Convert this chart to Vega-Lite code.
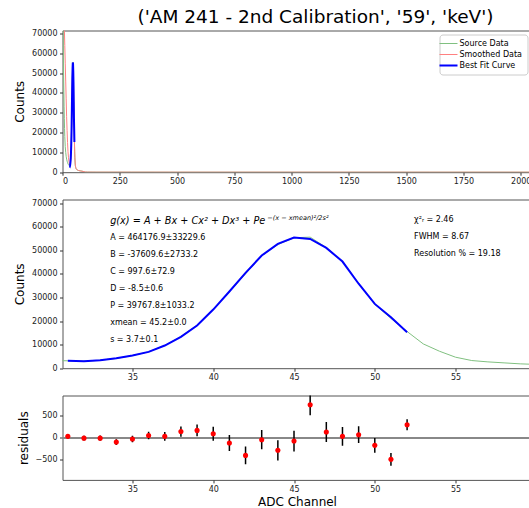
{
  "$schema": "https://vega.github.io/schema/vega-lite/v6.json",
  "padding": {"left": 12.5, "top": 7.5, "right": 0, "bottom": 0},
  "title": {"text": "('AM 241 - 2nd Calibration', '59', 'keV')", "font": "DejaVu Sans", "fontSize": 18.5, "fontWeight": "normal", "color": "#000", "anchor": "middle", "frame": "group", "dx": 18.5, "offset": 2},
  "datasets": {
    "source": [
      {"ch": 0, "counts": 150000}, {"ch": 1, "counts": 110000}, {"ch": 2, "counts": 85000}, {"ch": 3, "counts": 70000},
      {"ch": 4, "counts": 58000}, {"ch": 5, "counts": 48000}, {"ch": 6, "counts": 40000}, {"ch": 7, "counts": 33000},
      {"ch": 8, "counts": 27000}, {"ch": 9, "counts": 22000}, {"ch": 10, "counts": 18000}, {"ch": 12, "counts": 13000},
      {"ch": 14, "counts": 10000}, {"ch": 16, "counts": 8000}, {"ch": 18, "counts": 6600}, {"ch": 20, "counts": 5600},
      {"ch": 22, "counts": 4800}, {"ch": 24, "counts": 4200}, {"ch": 26, "counts": 3800}, {"ch": 28, "counts": 3500},
      {"ch": 30, "counts": 3250}, {"ch": 31, "counts": 3140}, {"ch": 32, "counts": 2960}, {"ch": 33, "counts": 3380},
      {"ch": 34, "counts": 4140}, {"ch": 35, "counts": 5340}, {"ch": 36, "counts": 6970}, {"ch": 37, "counts": 9630},
      {"ch": 38, "counts": 13420}, {"ch": 39, "counts": 18245}, {"ch": 40, "counts": 24950}, {"ch": 41, "counts": 32370},
      {"ch": 42, "counts": 40000}, {"ch": 43, "counts": 47695}, {"ch": 44, "counts": 52395}, {"ch": 45, "counts": 55295},
      {"ch": 46, "counts": 55545}, {"ch": 47, "counts": 51128}, {"ch": 48, "counts": 45230}, {"ch": 49, "counts": 35868},
      {"ch": 50, "counts": 27077}, {"ch": 51, "counts": 21110}, {"ch": 52, "counts": 15543}, {"ch": 53, "counts": 10300},
      {"ch": 54, "counts": 7200}, {"ch": 55, "counts": 4660}, {"ch": 56, "counts": 3250}, {"ch": 57, "counts": 2680},
      {"ch": 58, "counts": 2260}, {"ch": 59, "counts": 1840}, {"ch": 60, "counts": 1600}, {"ch": 61, "counts": 1450},
      {"ch": 62, "counts": 1300}, {"ch": 64, "counts": 1150}, {"ch": 66, "counts": 1020}, {"ch": 68, "counts": 930},
      {"ch": 70, "counts": 850}, {"ch": 75, "counts": 720}, {"ch": 80, "counts": 620}, {"ch": 85, "counts": 520},
      {"ch": 90, "counts": 380}, {"ch": 95, "counts": 180}, {"ch": 100, "counts": 70}, {"ch": 110, "counts": 40},
      {"ch": 150, "counts": 30}, {"ch": 200, "counts": 22}, {"ch": 300, "counts": 18}, {"ch": 500, "counts": 14},
      {"ch": 800, "counts": 10}, {"ch": 1200, "counts": 8}, {"ch": 1600, "counts": 6}, {"ch": 2047, "counts": 4}
    ],
    "smoothed": [
      {"ch": 0, "counts": 110000}, {"ch": 3, "counts": 95000}, {"ch": 6, "counts": 82000}, {"ch": 8, "counts": 73000},
      {"ch": 10, "counts": 64000}, {"ch": 12, "counts": 55000}, {"ch": 14, "counts": 46000}, {"ch": 16, "counts": 37000},
      {"ch": 18, "counts": 28000}, {"ch": 20, "counts": 21000}, {"ch": 22, "counts": 15000}, {"ch": 24, "counts": 10500},
      {"ch": 26, "counts": 7500}, {"ch": 28, "counts": 5500}, {"ch": 30, "counts": 4300}, {"ch": 32, "counts": 3800},
      {"ch": 34, "counts": 4300}, {"ch": 36, "counts": 7000}, {"ch": 38, "counts": 13000}, {"ch": 40, "counts": 24500},
      {"ch": 42, "counts": 39000}, {"ch": 44, "counts": 51500}, {"ch": 45, "counts": 54500}, {"ch": 46, "counts": 54000},
      {"ch": 48, "counts": 45000}, {"ch": 50, "counts": 27500}, {"ch": 52, "counts": 16000}, {"ch": 54, "counts": 7500},
      {"ch": 56, "counts": 3500}, {"ch": 58, "counts": 2300}, {"ch": 60, "counts": 1700}, {"ch": 65, "counts": 1100},
      {"ch": 70, "counts": 850}, {"ch": 80, "counts": 600}, {"ch": 90, "counts": 380}, {"ch": 100, "counts": 120},
      {"ch": 110, "counts": 50}, {"ch": 150, "counts": 30}, {"ch": 300, "counts": 18}, {"ch": 600, "counts": 12},
      {"ch": 1000, "counts": 8}, {"ch": 1500, "counts": 6}, {"ch": 2047, "counts": 4}
    ],
    "fit": [
      {"ch": 31, "counts": 3110}, {"ch": 32, "counts": 2970}, {"ch": 33, "counts": 3390}, {"ch": 34, "counts": 4240},
      {"ch": 35, "counts": 5370}, {"ch": 36, "counts": 6920}, {"ch": 37, "counts": 9600}, {"ch": 38, "counts": 13280},
      {"ch": 39, "counts": 18080}, {"ch": 40, "counts": 24860}, {"ch": 41, "counts": 32490}, {"ch": 42, "counts": 40400},
      {"ch": 43, "counts": 47740}, {"ch": 44, "counts": 52680}, {"ch": 45, "counts": 55370}, {"ch": 46, "counts": 54800},
      {"ch": 47, "counts": 51000}, {"ch": 48, "counts": 45200}, {"ch": 49, "counts": 35800}, {"ch": 50, "counts": 27250},
      {"ch": 51, "counts": 21600}, {"ch": 52, "counts": 15250}
    ],
    "resid": [
      {"ch": 31, "res": 30, "lo": -26, "hi": 86}, {"ch": 32, "res": -10, "lo": -64, "hi": 44},
      {"ch": 33, "res": -10, "lo": -68, "hi": 48}, {"ch": 34, "res": -100, "lo": -164, "hi": -36},
      {"ch": 35, "res": -30, "lo": -103, "hi": 43}, {"ch": 36, "res": 50, "lo": -33, "hi": 133},
      {"ch": 37, "res": 30, "lo": -68, "hi": 128}, {"ch": 38, "res": 140, "lo": 24, "hi": 256},
      {"ch": 39, "res": 165, "lo": 30, "hi": 300}, {"ch": 40, "res": 90, "lo": -68, "hi": 248},
      {"ch": 41, "res": -120, "lo": -300, "hi": 60}, {"ch": 42, "res": -400, "lo": -600, "hi": -200},
      {"ch": 43, "res": -45, "lo": -263, "hi": 173}, {"ch": 44, "res": -285, "lo": -514, "hi": -56},
      {"ch": 45, "res": -75, "lo": -310, "hi": 160}, {"ch": 46, "res": 745, "lo": 509, "hi": 981},
      {"ch": 47, "res": 128, "lo": -98, "hi": 354}, {"ch": 48, "res": 30, "lo": -183, "hi": 243},
      {"ch": 49, "res": 68, "lo": -121, "hi": 257}, {"ch": 50, "res": -173, "lo": -338, "hi": -8},
      {"ch": 51, "res": -490, "lo": -635, "hi": -345}, {"ch": 52, "res": 293, "lo": 168, "hi": 418}
    ],
    "params": [
      {"text": "A = 464176.9±33229.6", "ch": 33.62, "counts": 55230},
      {"text": "B = -37609.6±2733.2", "ch": 33.62, "counts": 47770},
      {"text": "C = 997.6±72.9", "ch": 33.62, "counts": 40690},
      {"text": "D = -8.5±0.6", "ch": 33.62, "counts": 33360},
      {"text": "P = 39767.8±1033.2", "ch": 33.62, "counts": 26570},
      {"text": "xmean = 45.2±0.0", "ch": 33.62, "counts": 19200},
      {"text": "s = 3.7±0.1", "ch": 33.62, "counts": 12160},
      {"text": "χ²ᵣ = 2.46", "ch": 52.43, "counts": 62600},
      {"text": "FWHM = 8.67", "ch": 52.43, "counts": 55650},
      {"text": "Resolution % = 19.18", "ch": 52.43, "counts": 48610}
    ],
    "formula": [
      {"text": "g(x) = A + Bx + Cx² + Dx³ + Pe", "ch": 33.62, "counts": 62300}
    ],
    "sup": [
      {"text": "−(x − xmean)²/2s²", "ch": 43.35, "counts": 63800}
    ]
  },
  "spacing": 27,
  "bounds": "flush",
  "vconcat": [
    {
      "width": 469,
      "height": 141.7,
      "encoding": {
        "x": {"field": "ch", "type": "quantitative", "scale": {"domain": [0, 2047], "nice": false, "zero": false},
              "axis": {"values": [0, 250, 500, 750, 1000, 1250, 1500, 1750, 2000], "format": "d", "title": null}},
        "y": {"field": "counts", "type": "quantitative", "scale": {"domain": [0, 71500], "nice": false},
              "axis": {"values": [0, 10000, 20000, 30000, 40000, 50000, 60000, 70000], "format": "d", "title": "Counts", "titlePadding": 5}}
      },
      "layer": [
        {"data": {"name": "source"}, "mark": {"type": "line", "clip": true, "strokeWidth": 1},
         "encoding": {"color": {"datum": "Source Data", "type": "nominal",
            "scale": {"domain": ["Source Data", "Smoothed Data", "Best Fit Curve"], "range": ["#80c080", "#ff8080", "#0000ff"]},
            "legend": {"title": null, "orient": "top-right", "offset": 4,
               "encode": {"symbols": {"update": {"strokeWidth": {"signal": "datum.value === 'Best Fit Curve' ? 2 : 1"}}}}}}}},
        {"data": {"name": "smoothed"}, "mark": {"type": "line", "clip": true, "strokeWidth": 1},
         "encoding": {"color": {"datum": "Smoothed Data", "type": "nominal"}}},
        {"data": {"name": "fit"}, "mark": {"type": "line", "clip": true, "strokeWidth": 2},
         "encoding": {"color": {"datum": "Best Fit Curve", "type": "nominal"}}}
      ]
    },
    {
      "width": 469,
      "height": 168.7,
      "encoding": {
        "x": {"field": "ch", "type": "quantitative", "scale": {"domain": [30.67, 59.7], "nice": false, "zero": false},
              "axis": {"values": [35, 40, 45, 50, 55], "title": null}},
        "y": {"field": "counts", "type": "quantitative", "scale": {"domain": [0, 71500], "nice": false},
              "axis": {"values": [0, 10000, 20000, 30000, 40000, 50000, 60000, 70000], "format": "d", "title": "Counts", "titlePadding": 5}}
      },
      "layer": [
        {"data": {"name": "source"}, "mark": {"type": "line", "clip": true, "strokeWidth": 1, "color": "#80c080"}},
        {"data": {"name": "fit"}, "mark": {"type": "line", "clip": true, "strokeWidth": 2, "color": "#0000ff"}},
        {"data": {"name": "params"}, "mark": {"type": "text", "align": "left", "baseline": "middle", "fontSize": 8, "font": "DejaVu Sans", "color": "#000"},
         "encoding": {"text": {"field": "text"}}},
        {"data": {"name": "formula"}, "mark": {"type": "text", "align": "left", "baseline": "middle", "fontSize": 9.7, "fontStyle": "italic", "font": "DejaVu Sans", "color": "#000"},
         "encoding": {"text": {"field": "text"}}},
        {"data": {"name": "sup"}, "mark": {"type": "text", "align": "left", "baseline": "middle", "fontSize": 6.5, "fontStyle": "italic", "font": "DejaVu Sans", "color": "#000"},
         "encoding": {"text": {"field": "text"}}}
      ]
    },
    {
      "width": 469,
      "height": 84.4,
      "data": {"name": "resid"},
      "encoding": {
        "x": {"field": "ch", "type": "quantitative", "scale": {"domain": [30.67, 59.7], "nice": false, "zero": false},
              "axis": {"values": [35, 40, 45, 50, 55], "title": "ADC Channel", "titlePadding": 3}}
      },
      "layer": [
        {"mark": {"type": "rule", "color": "#888", "strokeWidth": 1.5},
         "encoding": {"x": null, "y": {"datum": 0, "type": "quantitative"}}},
        {"mark": {"type": "rule", "color": "#000", "strokeWidth": 1.5, "clip": true},
         "encoding": {"y": {"field": "lo", "type": "quantitative", "scale": {"domain": [-955, 955], "nice": false},
                            "axis": {"values": [-500, 0, 500], "format": "d", "title": "residuals", "titlePadding": 5}},
                      "y2": {"field": "hi"}}},
        {"mark": {"type": "circle", "color": "#ff0000", "size": 26, "opacity": 1, "clip": true},
         "encoding": {"y": {"field": "res", "type": "quantitative"}}}
      ]
    }
  ],
  "config": {
    "font": "DejaVu Sans",
    "view": {"stroke": "#555", "strokeWidth": 1},
    "axis": {"domain": false, "grid": false, "ticks": true, "tickSize": 3, "tickColor": "#333", "tickWidth": 1,
             "labelFont": "DejaVu Sans", "labelFontSize": 8, "labelColor": "#222", "labelPadding": 2.5,
             "titleFont": "DejaVu Sans", "titleFontSize": 12, "titleFontWeight": "normal", "titleColor": "#000"},
    "legend": {"fillColor": "white", "strokeColor": "#ccc", "cornerRadius": 3, "padding": 5, "symbolType": "stroke",
               "symbolSize": 324, "symbolStrokeWidth": 1, "labelFont": "DejaVu Sans", "labelFontSize": 8, "labelColor": "#000",
               "rowPadding": 3, "labelOffset": 7}
  }
}
